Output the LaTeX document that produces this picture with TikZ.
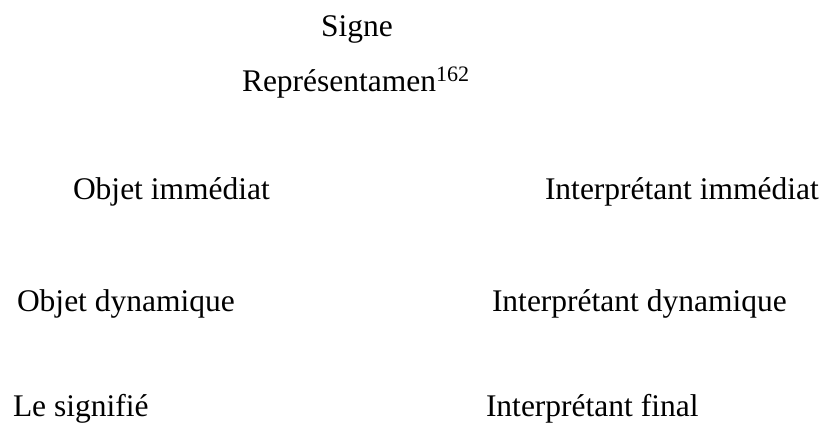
\documentclass[tikz,border=0pt]{standalone}
\usepackage{fontspec}
\setmainfont{Liberation Serif}
\begin{document}
\begin{tikzpicture}[x=1pt,y=-1pt,
  lbl/.style={inner sep=0pt,outer sep=0pt,anchor=base west,font=\fontsize{31.5}{36}\selectfont}]
\useasboundingbox[fill=white] (0,0) rectangle (827,428);
\node[lbl] (signe) at (321,37) {Signe};
\node[lbl] (repr) at (242,91) {Représentamen\textsuperscript{162}};
\node[lbl] (oi) at (73,199) {Objet immédiat};
\node[lbl] (ii) at (545,199) {Interprétant immédiat};
\node[lbl] (od) at (17,311) {Objet dynamique};
\node[lbl] (id) at (492,311) {Interprétant dynamique};
\node[lbl] (ls) at (13,416) {Le signifié};
\node[lbl] (if) at (486,416) {Interprétant final};
\end{tikzpicture}
\end{document}
